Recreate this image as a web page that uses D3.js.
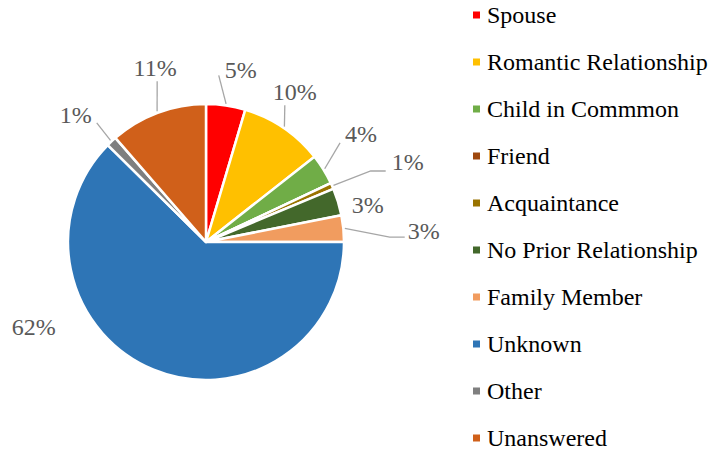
<!DOCTYPE html>
<html lang='en'>
	<head>
		<meta charset='utf-8'>
		<title>Relationship pie</title>
		<script src="https://d3js.org/d3.v7.min.js"></script>
		<style type="text/css">
			body { margin: 0; background: #fff; }
			svg { display: block; }
			text { font-family: "Liberation Serif", "Times New Roman", "DejaVu Serif", serif; font-size: 24px; }
		</style>
	</head>
	<body>
		<script type='text/javascript'>
			//Data
			var categories = ["Spouse", "Romantic Relationship", "Child in Commmon", "Friend", "Acquaintance",
				"No Prior Relationship", "Family Member", "Unknown", "Other", "Unanswered"];
			var shares = [4.6, 9.8, 3.6, 0, 0.7, 3.2, 3.1, 62.4, 1.2, 11.4];
			var labels = ["5%", "10%", "4%", "", "1%", "3%", "3%", "62%", "1%", "11%"];
			var colors = ["#ff0000", "#ffc000", "#70ad47", "#9e480e", "#997300",
				"#43682b", "#f19c5f", "#2e75b6", "#7f7f7f", "#d0601a"];

			//Label layout: angle nudge (deg), distance from centre, leader points relative to label
			var labelLayout = [
				{ da: 3.1, d: 176, line: [[-22, 6]] },
				{ da: -3.7, d: 175, line: [[-10, 14]] },
				{ da: -3.2, d: 189, line: [[-21, 9]] },
				null,
				{ da: 2.3, d: 217, line: [[-37, 9], [-22, 9]] },
				{ da: 4.0, d: 166, line: null },
				{ da: 2.7, d: 218, line: [[-34, 6], [-19, 6]] },
				{ da: 41.4, d: 192, line: null },
				{ da: -2.5, d: 182, line: [[21, 8]] },
				{ da: 4.3, d: 182, line: [[2, 14]] }
			];

			var w = 712;
			var h = 455;
			var cx = 206, cy = 242, r = 138;

			var svg = d3.select("body")
						.append("svg")
						.attr("width", w)
						.attr("height", h);

			var pie = d3.pie().sort(null).value(function(d) { return d; });
			var arcs = pie(shares);
			var arc = d3.arc().innerRadius(0).outerRadius(r);

			var g = svg.append("g").attr("transform", "translate(" + cx + "," + cy + ")");

			g.selectAll("path")
			 .data(arcs)
			 .enter()
			 .append("path")
			 .attr("d", arc)
			 .attr("fill", function(d, i) { return colors[i]; })
			 .attr("stroke", "#fff")
			 .attr("stroke-width", 2.5)
			 .attr("stroke-linejoin", "round");

			function polar(a, d) { return [Math.sin(a) * d, -Math.cos(a) * d]; }

			//Labels and leader lines
			arcs.forEach(function(a, i) {
				var lay = labelLayout[i];
				if (!lay || !labels[i]) return;
				var mid = (a.startAngle + a.endAngle) / 2;
				var p = polar(mid + lay.da * Math.PI / 180, lay.d);
				if (lay.line) {
					var pts = [polar(mid, r + 1.5)];
					lay.line.forEach(function(o) { pts.push([p[0] + o[0], p[1] + o[1]]); });
					g.append("path")
					 .attr("d", d3.line()(pts))
					 .attr("fill", "none")
					 .attr("stroke", "#a6a6a6")
					 .attr("stroke-width", 1.3);
				}
				g.append("text")
				 .attr("x", p[0])
				 .attr("y", p[1])
				 .attr("dy", "0.35em")
				 .attr("text-anchor", "middle")
				 .attr("fill", "#595959")
				 .text(labels[i]);
			});

			//Legend
			var ly = d3.scaleLinear().domain([0, categories.length - 1]).range([15, 438]);
			var leg = svg.selectAll("g.leg")
						 .data(categories)
						 .enter()
						 .append("g")
						 .attr("class", "leg")
						 .attr("transform", function(d, i) { return "translate(473," + ly(i) + ")"; });
			leg.append("rect")
			   .attr("x", 0)
			   .attr("y", -3.5)
			   .attr("width", 7)
			   .attr("height", 7)
			   .attr("fill", function(d, i) { return colors[i]; });
			leg.append("text")
			   .attr("x", 14)
			   .attr("y", 8)
			   .attr("fill", "#000")
			   .text(function(d) { return d; });
		</script>
	</body>
</html>
